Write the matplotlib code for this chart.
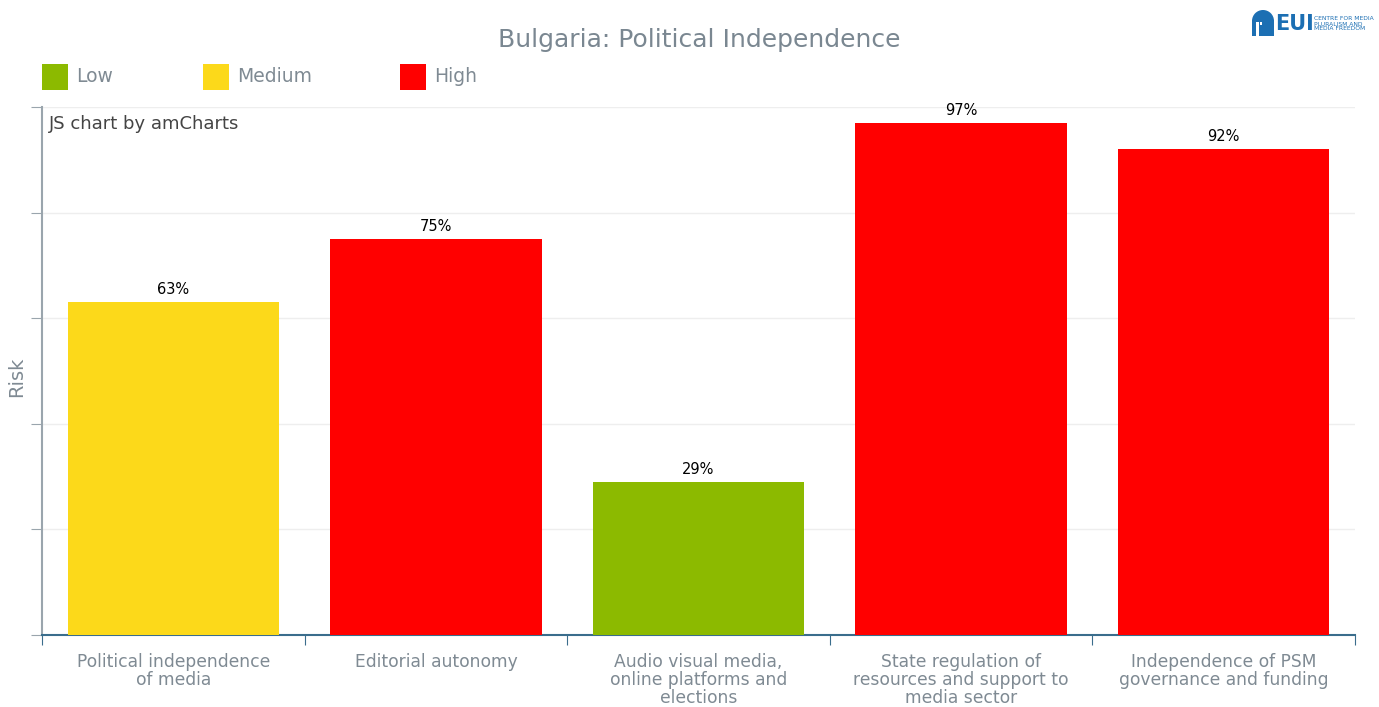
import matplotlib
matplotlib.use('Agg')
import matplotlib.pyplot as plt
from matplotlib.patches import Rectangle, Wedge

plt.rcParams['font.family'] = ['DejaVu Sans']

categories = ['Political independence\nof media', 'Editorial autonomy',
              'Audio visual media,\nonline platforms and\nelections',
              'State regulation of\nresources and support to\nmedia sector',
              'Independence of PSM\ngovernance and funding']
values = [63, 75, 29, 97, 92]
levels = ['Medium', 'High', 'Low', 'High', 'High']
level_colors = {'Low': '#8cba00', 'Medium': '#fcd91a', 'High': '#ff0000'}
legend_items = ['Low', 'Medium', 'High']

W, H = 1379, 707
fig = plt.figure(figsize=(W / 100, H / 100), dpi=100)
ax = fig.add_axes([42 / W, 1 - 635 / H, (1355 - 42) / W, (635 - 107) / H])

x = list(range(len(values)))
cols = [level_colors[l] for l in levels]
ax.bar(x, values, width=0.805, color=cols, zorder=3)
for xi, v in zip(x, values):
    ax.text(xi, v + 1.0, f'{v}%', ha='center', va='bottom', fontsize=10.5, color='black')

ax.set_xlim(-0.5, len(values) - 0.5)
ax.set_ylim(0, 100)
ax.set_yticks([0, 20, 40, 60, 80, 100])
ax.set_yticklabels([])
ax.tick_params(axis='y', length=8, color='#9aa5ad', direction='out')
ax.set_xticks([i - 0.5 for i in range(len(values) + 1)])
ax.set_xticklabels([])
ax.tick_params(axis='x', length=7, color='#3a6d8c', direction='out')
for i, c in enumerate(categories):
    ax.text(i, -3.5, c, ha='center', va='top', fontsize=12.3, color='#7f8a93',
            linespacing=0.98, transform=ax.transData)
ax.grid(axis='y', color='#eeeeee', linewidth=1, zorder=0)
for s in ['top', 'right']:
    ax.spines[s].set_visible(False)
ax.spines['left'].set_color('#9aa5ad')
ax.spines['left'].set_linewidth(1.5)
ax.spines['bottom'].set_color('#3a6d8c')
ax.spines['bottom'].set_linewidth(1.5)
fig.text(17 / W, 1 - 377 / H, 'Risk', rotation=90, ha='center', va='center',
         fontsize=14, color='#7f8a93')

ax.text(0.005, 0.985, 'JS chart by amCharts', transform=ax.transAxes, ha='left', va='top',
        fontsize=13, color='#444444')

fig.text(699 / W, 1 - 40 / H, 'Bulgaria: Political Independence', ha='center', va='center',
         fontsize=18, color='#7a8791')

# legend
leg_x = [42, 203, 400]
for lx, name in zip(leg_x, legend_items):
    fig.add_artist(Rectangle((lx / W, 1 - 90 / H), 26 / W, 26 / H, transform=fig.transFigure,
                             facecolor=level_colors[name], edgecolor='none'))
    fig.text((lx + 34) / W, 1 - 77 / H, name, ha='left', va='center', fontsize=13.5, color='#7f8a93')

# logo
logo_blue = '#1c6fb3'
lax = fig.add_axes([1250 / W, 1 - 40 / H, 129 / W, 32 / H])
lax.set_xlim(1250, 1379)
lax.set_ylim(40, 8)
lax.axis('off')
lax.add_patch(Rectangle((1252, 20), 22, 16, facecolor=logo_blue, edgecolor='none'))
lax.add_patch(Wedge((1263, 21), 11, 180, 360, facecolor=logo_blue, edgecolor='none'))
lax.add_patch(Rectangle((1256, 22), 3, 14, facecolor='white', edgecolor='none'))
lax.add_patch(Rectangle((1260, 22), 2, 3, facecolor='white', edgecolor='none'))
lax.text(1275, 24, 'EUI', ha='left', va='center', fontsize=15, fontweight='bold', color=logo_blue)
lax.text(1314, 24, 'CENTRE FOR MEDIA\nPLURALISM AND\nMEDIA FREEDOM', ha='left', va='center',
         fontsize=4.3, color=logo_blue, linespacing=1.0)

fig.savefig('out.png', dpi=100)
